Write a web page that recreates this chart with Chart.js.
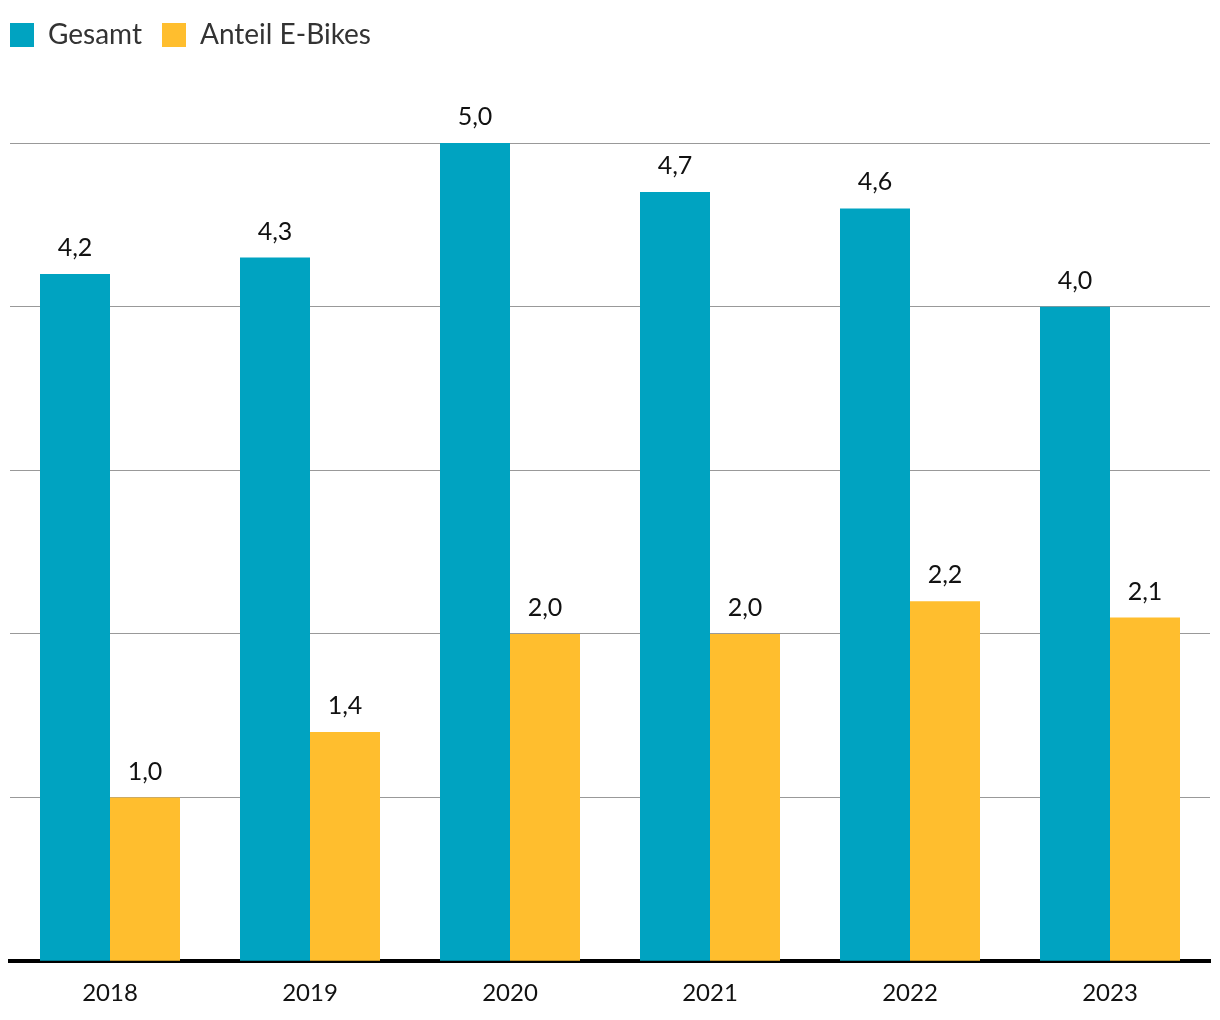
<!DOCTYPE html>
<html>
<head>
<meta charset="utf-8">
<script src="https://cdn.jsdelivr.net/npm/chart.js@4.4.1/dist/chart.umd.min.js"></script>
<style>
  html, body { margin: 0; padding: 0; background: #fff; }
  #wrap { width: 1220px; height: 1020px; }
</style>
</head>
<body>
<div id="wrap"><canvas id="c" width="1220" height="1020"></canvas></div>
<script>
const categories = ['2018', '2019', '2020', '2021', '2022', '2023'];
const gesamt = [4.2, 4.3, 5.0, 4.7, 4.6, 4.0];
const eBikes = [1.0, 1.4, 2.0, 2.0, 2.2, 2.1];
const seriesNames = ['Gesamt', 'Anteil E-Bikes'];
const yMax = 5;

const FONT = "'Source Sans Pro', Lato, 'Open Sans', sans-serif";
const LEG_PAD = 20;

const legendLayout = {
  id: 'legendLayout',
  beforeLayout(chart) {
    const lg = chart.legend;
    if (lg && !lg._wrapped) {
      const fit = lg.fit;
      lg.fit = function () { fit.call(this); this.height = 143; };
      lg._wrapped = true;
    }
  },
  afterLayout(chart) {
    if (chart.legend) { chart.legend.left = 10 - LEG_PAD; chart.legend.top = 1; }
  }
};

const valueLabels = {
  id: 'valueLabels',
  afterDatasetsDraw(chart) {
    const ctx = chart.ctx;
    ctx.save();
    ctx.font = '25px ' + FONT;
    ctx.fillStyle = '#111';
    ctx.textAlign = 'center';
    ctx.textBaseline = 'alphabetic';
    chart.data.datasets.forEach((ds, di) => {
      chart.getDatasetMeta(di).data.forEach((bar, i) => {
        const txt = ds.data[i].toFixed(1).replace('.', ',');
        ctx.fillText(txt, bar.x, bar.y - 18);
      });
    });
    ctx.restore();
  }
};

new Chart(document.getElementById('c'), {
  type: 'bar',
  data: {
    labels: categories,
    datasets: [
      { label: seriesNames[0], data: gesamt, backgroundColor: '#00A3C1', borderWidth: 0 },
      { label: seriesNames[1], data: eBikes, backgroundColor: '#FFBE2E', borderWidth: 0 }
    ]
  },
  options: {
    responsive: false,
    animation: false,
    devicePixelRatio: 1,
    layout: { padding: { left: 10, right: 10, top: 0, bottom: 2 } },
    datasets: { bar: { categoryPercentage: 0.7, barPercentage: 1.0 } },
    plugins: {
      legend: {
        position: 'top',
        align: 'start',
        labels: {
          boxWidth: 24,
          boxHeight: 24,
          padding: LEG_PAD,
          color: '#333',
          font: { family: FONT, size: 28 }
        }
      },
      tooltip: { enabled: false }
    },
    scales: {
      x: {
        grid: { display: false },
        border: { display: true, color: '#000', width: 4 },
        ticks: { color: '#111', font: { family: FONT, size: 24 }, padding: 10 }
      },
      y: {
        min: 0,
        max: yMax,
        ticks: { display: false, stepSize: 1 },
        border: { display: false },
        grid: { color: '#999', lineWidth: 1, drawTicks: false }
      }
    }
  },
  plugins: [legendLayout, valueLabels]
});
</script>
</body>
</html>
